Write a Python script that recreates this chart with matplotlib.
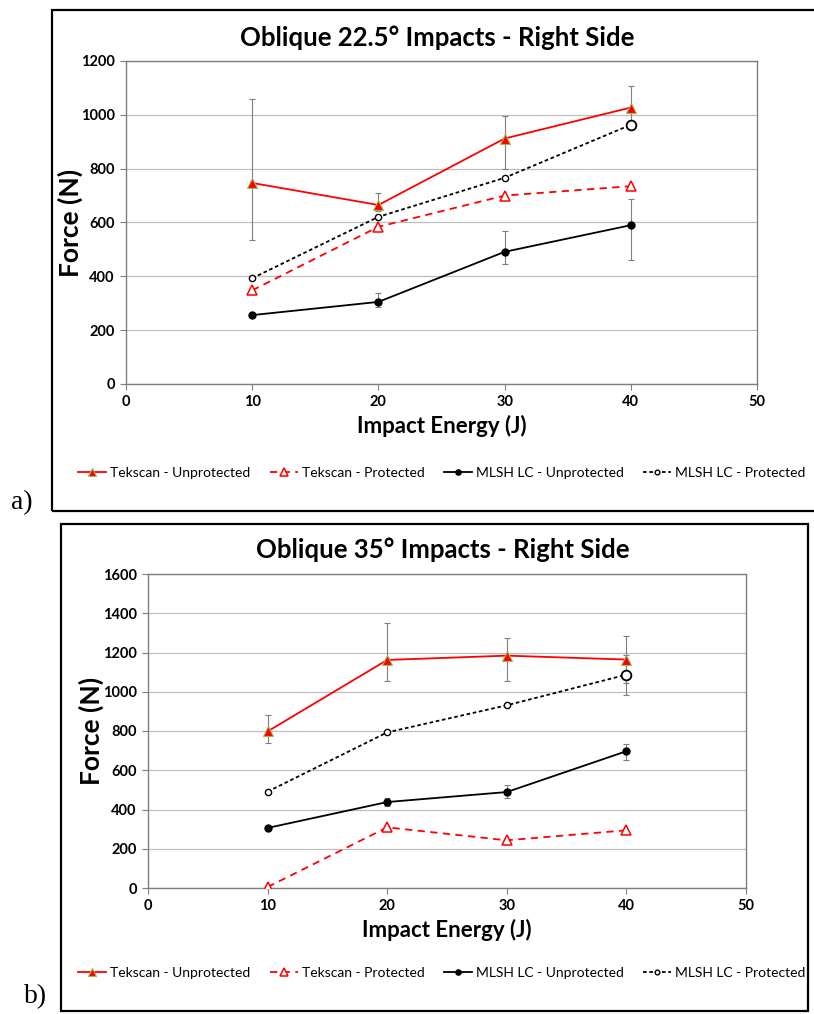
import matplotlib
matplotlib.use('Agg')
import matplotlib.pyplot as plt
from matplotlib.patches import Rectangle

plt.rcParams['font.family'] = ['Lato', 'DejaVu Sans']

# impact energies (J)
energy = [10, 20, 30, 40]

# a) oblique 22.5 deg
tek_unp_a = [747, 665, 912, 1027]
tek_unp_a_up = [312, 45, 83, 81]
tek_unp_a_lo = [212, 21, 113, 80]
tek_pro_a = [348, 584, 700, 735]
mlsh_unp_a = [256, 305, 491, 590]
mlsh_unp_a_up = [0, 32, 77, 98]
mlsh_unp_a_lo = [0, 19, 46, 129]
mlsh_pro_a = [393, 621, 766, 963]
mlsh_pro_a_up = [0, 0, 0, 0]
mlsh_pro_a_lo = [0, 0, 0, 0]

# b) oblique 35 deg
tek_unp_b = [798, 1162, 1184, 1164]
tek_unp_b_up = [85, 187, 90, 119]
tek_unp_b_lo = [57, 107, 127, 119]
tek_pro_b = [5, 309, 243, 294]
mlsh_unp_b = [306, 438, 489, 697]
mlsh_unp_b_up = [0, 20, 34, 39]
mlsh_unp_b_lo = [0, 20, 30, 46]
mlsh_pro_b = [491, 793, 931, 1087]
mlsh_pro_b_up = [0, 0, 0, 100]
mlsh_pro_b_lo = [0, 0, 0, 103]

labels = ['Tekscan - Unprotected', 'Tekscan - Protected',
          'MLSH LC - Unprotected', 'MLSH LC - Protected']

W, H = 814, 1014
fig = plt.figure(figsize=(W / 100, H / 100), dpi=100)


def fx(px):
    return px / W


def fy(py):
    return 1 - py / H


def box(x0, y0, x1, y1):
    fig.patches.append(Rectangle((fx(x0), fy(y1)), fx(x1 - x0), (y1 - y0) / H,
                                 transform=fig.transFigure, fill=False,
                                 edgecolor='black', linewidth=1.6))


def panel(rect, title, ymax, tu, tu_err, tp, mu, mu_err, mp, mp_err, title_y, leg_y, ylab_x):
    l, t, r, b = rect
    ax = fig.add_axes([fx(l), fy(b), fx(r - l), (b - t) / H])
    gray = '#7f7f7f'
    ecol = '#7f7f7f'
    ax.errorbar(energy, tu, yerr=tu_err, fmt='none', ecolor=ecol, elinewidth=0.8,
                capsize=2.5, capthick=0.8, zorder=2)
    ax.errorbar(energy, mu, yerr=mu_err, fmt='none', ecolor=ecol, elinewidth=0.8,
                capsize=2.5, capthick=0.8, zorder=2)
    ax.errorbar(energy, mp, yerr=mp_err, fmt='none', ecolor=ecol, elinewidth=0.8,
                capsize=2.5, capthick=0.8, zorder=2)
    h1, = ax.plot(energy, tu, color='#ff0000', lw=1.3, marker='^', ms=7,
                  mfc='#ff0000', mec='#9bbb59', mew=0.8, zorder=4)
    h2, = ax.plot(energy, tp, color='#ff0000', lw=1.3, ls=(0, (4, 3)), marker='^', ms=7,
                  mfc='white', mec='#ff0000', mew=1.1, zorder=4)
    h3, = ax.plot(energy, mu, color='black', lw=1.3, marker='o', ms=5,
                  mfc='black', mec='black', zorder=4)
    h4, = ax.plot(energy, mp, color='black', lw=1.3, ls=(0, (2, 1.5)), marker='o', ms=4.5,
                  mfc='white', mec='black', mew=1.0, zorder=4)
    # last point drawn with the bigger open circle, as in the original
    ax.plot(energy[-1:], mp[-1:], ls='none', marker='o', ms=7, mfc='white',
            mec='black', mew=1.3, zorder=5)

    ax.set_xlim(0, 50)
    ax.set_ylim(0, ymax)
    ax.set_xticks(range(0, 51, 10))
    ax.set_yticks(range(0, ymax + 1, 200))
    ax.grid(axis='y', color='#bfbfbf', lw=0.9)
    ax.set_axisbelow(True)
    for s in ax.spines.values():
        s.set_color(gray)
        s.set_linewidth(1.0)
    ax.tick_params(direction='out', length=4, width=0.8, color=gray,
                   labelsize=10.5, pad=4)
    for lab in ax.get_xticklabels() + ax.get_yticklabels():
        lab.set_fontweight('bold')
    ax.set_xlabel('Impact Energy (J)', fontsize=16, fontweight='bold', labelpad=4)
    ax.set_ylabel('Force (N)', fontsize=19, fontweight='bold')
    ax.yaxis.set_label_coords((ylab_x - l) / (r - l), 0.5)
    fig.text(fx((l + r) / 2 - 4), fy(title_y), title, ha='center', va='center',
             fontsize=18.5, fontweight='bold')
    fig.legend([h1, h2, h3, h4], labels, loc='center', ncol=4,
               bbox_to_anchor=(fx(442), fy(leg_y)), frameon=False, fontsize=10,
               handlelength=2.0, handletextpad=0.3, columnspacing=1.4,
               markerscale=0.75, borderaxespad=0)
    return ax


panel((126, 61, 757, 384), 'Oblique 22.5° Impacts - Right Side', 1200,
      tek_unp_a, [tek_unp_a_lo, tek_unp_a_up], tek_pro_a,
      mlsh_unp_a, [mlsh_unp_a_lo, mlsh_unp_a_up],
      mlsh_pro_a, [mlsh_pro_a_lo, mlsh_pro_a_up], 38, 473, 83)
panel((148, 574, 746, 888), 'Oblique 35° Impacts - Right Side', 1600,
      tek_unp_b, [tek_unp_b_lo, tek_unp_b_up], tek_pro_b,
      mlsh_unp_b, [mlsh_unp_b_lo, mlsh_unp_b_up],
      mlsh_pro_b, [mlsh_pro_b_lo, mlsh_pro_b_up], 550, 973, 104)

box(52, 10, 830, 511)
box(61, 524, 808, 1011)

fig.text(fx(11), fy(503), 'a)', family='Liberation Serif', fontsize=20, va='center')
fig.text(fx(24), fy(997), 'b)', family='Liberation Serif', fontsize=20, va='center')

fig.savefig('out.png', dpi=100)
